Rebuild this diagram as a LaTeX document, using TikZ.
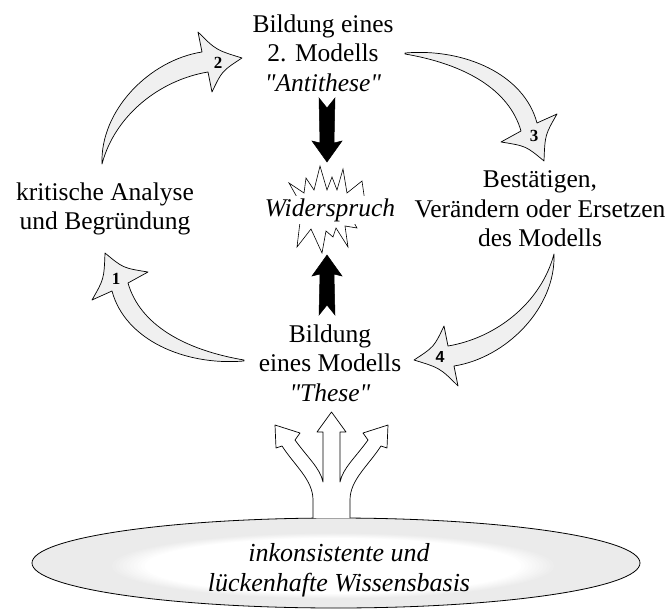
\documentclass[tikz,border=0pt]{standalone}
\usepackage{fontspec}
\newfontfamily\tnr{Liberation Serif}
\newfontfamily\numsans{Liberation Sans}
\definecolor{arrowgray}{gray}{0.94}
\definecolor{ringgray}{gray}{0.92}
\begin{document}
\begin{tikzpicture}[x=1pt,y=-1pt,
  lbl/.style={align=center, font=\tnr\fontsize{25.5}{29.5}\selectfont, inner sep=0pt},
  cyc/.style={draw=black, line width=0.7pt, fill=arrowgray, line join=round},
  blk/.style={fill=black, draw=black, line width=0.5pt},
  fork/.style={fill=white, draw=black, line width=0.7pt, line join=round},
  num/.style={font=\tnr\fontsize{17}{17}\selectfont\bfseries, inner sep=0pt}]
\useasboundingbox (0,0) rectangle (672,610);

% knowledge base ellipse with soft white centre
\fill[ringgray] (336,563) ellipse [x radius=304, y radius=45];
\foreach \i in {0,...,10} {
  \pgfmathsetmacro\scl{0.74-0.012*\i}
  \pgfmathtruncatemacro\mixpct{10*\i}
  \fill[white!\mixpct!ringgray] (333,566) ellipse [x radius={304*\scl}, y radius={45*\scl}];
}
\draw[line width=0.8pt] (336,563) ellipse [x radius=304, y radius=45];
\node[lbl, font=\tnr\fontsize{26}{30}\selectfont\itshape] (base) at (339,570) {inkonsistente und\\lückenhafte Wissensbasis};

% three-way fork arrow
\path[fork] (313,518) -- (313,500) .. controls (313,480) and (295,466) .. (282,446) -- (276,448) -- (275,425) -- (300,433) -- (295,440) .. controls (308,458) and (320,468) .. (323,482) -- (323,432) -- (317,432) -- (331.5,412) -- (346,432) -- (340,432) -- (340,482) .. controls (343,468) and (355,458) .. (368,440) -- (363,433) -- (388,425) -- (387,448) -- (381,446) .. controls (368,466) and (350,480) .. (350,500) -- (350,518);

% texts
\node[lbl] (top) at (323,53) {Bildung eines\\2. Modells\\\textit{"Antithese"}};
\node[lbl] (left) at (105,209) {kritische Analyse\\und Begründung};
\node[lbl] (right) at (540,209) {Bestätigen,\\Verändern oder Ersetzen\\des Modells};
\node[lbl] (bot) at (330,363) {Bildung\\eines Modells\\\textit{"These"}};

% black arrows
\draw[blk] (319,98) -- (327,108) -- (335,98) -- (334,143) -- (342,141) -- (327,162) -- (312,141) -- (320,143) -- cycle;
\draw[blk] (319,315) -- (327,305) -- (335,315) -- (334,274) -- (342,276) -- (327,255) -- (312,276) -- (320,274) -- cycle;

% burst
\draw[fill=white, line width=0.6pt, line join=miter] (366,209) -- (362,181) -- (347,193) -- (343,169) -- (337,190) -- (332,177) -- (327,190) -- (320,166) -- (314,190) -- (306,178) -- (304,193) -- (289,183) -- (298,199) -- (287,210) -- (300,222) -- (297,247) -- (311,229) -- (322,253) -- (326,231) -- (333,237) -- (336,228) -- (348,247) -- (345,226) -- (357,228) -- (352,219) -- cycle;
\node[lbl, fill=white, inner sep=2pt, font=\tnr\fontsize{25.5}{29.5}\selectfont\itshape] (wid) at (330,210) {Widerspruch};

% curved arrows 1 and 2
\draw[cyc] (244,361) .. controls (185,366) and (125,340) .. (112,291) -- (92,300) .. controls (104,279) .. (105,253) .. controls (123,268) .. (148,272) -- (128,283) .. controls (140,325) and (185,350) .. (244,360) -- cycle;
\draw[cyc] (102,164) .. controls (100,110) and (150,60) .. (202,52) -- (198,32) .. controls (216,50) .. (242,58) .. controls (222,71) .. (212,92) -- (208,72) .. controls (160,80) and (115,115) .. (102,164) -- cycle;
% curved arrows 3 and 4 (rotated copies)
\begin{scope}[rotate around={180:(324.5,207)}]
\draw[cyc] (244,361) .. controls (185,366) and (125,340) .. (112,291) -- (92,300) .. controls (104,279) .. (105,253) .. controls (123,268) .. (148,272) -- (128,283) .. controls (140,325) and (185,350) .. (244,360) -- cycle;
\end{scope}
\begin{scope}[rotate around={180:(328,209)}]
\draw[cyc] (102,164) .. controls (100,110) and (150,60) .. (202,52) -- (198,32) .. controls (216,50) .. (242,58) .. controls (222,71) .. (212,92) -- (208,72) .. controls (160,80) and (115,115) .. (102,164) -- cycle;
\end{scope}

\node[num] (n1) at (116,279) {1};
\node[num] (n2) at (218,63) {2};
\node[num] (n3) at (534,136) {3};
\node[num, font=\numsans\fontsize{16}{16}\selectfont\bfseries] (n4) at (440,357) {4};
\end{tikzpicture}
\end{document}
